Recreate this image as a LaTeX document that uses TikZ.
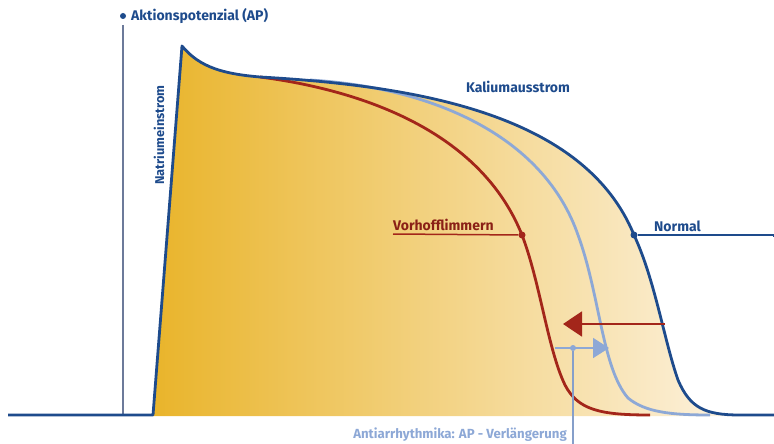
\documentclass[tikz,border=0pt]{standalone}
\usepackage{fontspec}
\setmainfont{Fira Sans}
\usetikzlibrary{arrows.meta}

\definecolor{apblue}{HTML}{1E4B8C}
\definecolor{afred}{HTML}{A3261A}
\definecolor{aablue}{HTML}{8DA8D6}
\definecolor{axisgray}{HTML}{6C7A9A}
\definecolor{apgold}{HTML}{E9B42A}
\definecolor{apmid}{HTML}{F3D283}
\definecolor{apcream}{HTML}{FDF3E2}

\tikzset{
  lbl/.style={font=\bfseries\fontsize{14}{16}\selectfont, inner sep=0pt},
  dotmark/.style={circle, fill, inner sep=0pt, minimum size=7pt},
  curve/.style={line width=2.8pt, line join=round},
}

\begin{document}
\begin{tikzpicture}[x=1pt,y=-1pt]
  \useasboundingbox (0,0) rectangle (774,444);

  % Flaeche unter dem normalen AP
  \begin{scope}
    \clip (153,416) -- (182,46) .. controls (200,68) and (225,74) .. (260,77)
      .. controls (420,86) and (585,115) .. (634,235)
      .. controls (655,280) and (664,340) .. (678,380)
      .. controls (690,408) and (705,416) .. (740,416) -- cycle;
    \shade[left color=apgold, middle color=apmid, right color=apcream] (150,40) rectangle (745,420);
  \end{scope}

  % Achse
  \node[dotmark, apblue, minimum size=6pt] (apdot) at (123,16) {};
  \node[lbl, apblue, anchor=west] (aplabel) at (131,16) {Aktionspotenzial (AP)};
  \coordinate (axtop) at (123,25);
  \coordinate (axbot) at (123,415);
  \draw[axisgray, line width=1.5pt] (axtop) -- (axbot);

  % Kurven
  \draw[curve, aablue] (310,80) .. controls (440,88) and (545,140) .. (578,235)
      .. controls (600,295) and (602,368) .. (628,398)
      .. controls (645,412) and (670,415) .. (710,415);
  \draw[curve, afred] (260,77) .. controls (360,90) and (480,130) .. (522,235)
      .. controls (540,282) and (548,350) .. (565,385)
      .. controls (578,410) and (600,415) .. (650,415);
  \draw[curve, apblue] (8,415) -- (153,415) -- (182,46)
      .. controls (200,68) and (225,74) .. (260,77)
      .. controls (420,86) and (585,115) .. (634,235)
      .. controls (655,280) and (664,340) .. (678,380)
      .. controls (690,408) and (705,415) .. (740,415) -- (774,415);

  % Beschriftungen
  \node[lbl, apblue, rotate=90, font=\bfseries\fontsize{12.8}{14}\selectfont] (natrium) at (159,135) {Natriumeinstrom};
  \node[lbl, apblue] (kalium) at (518,87) {Kaliumausstrom};

  \node[dotmark, afred] (vhfdot) at (522,235) {};
  \node[lbl, afred!85!black, anchor=south west] (vhf) at (393,231) {Vorhofflimmern};
  \coordinate (vhfline) at (393,234);
  \draw[afred, line width=1.5pt] (vhfline) -- (vhfdot);

  \node[dotmark, apblue] (normdot) at (634,235) {};
  \node[lbl, apblue, anchor=south west] (normal) at (654,232) {Normal};
  \coordinate (normend) at (774,237);
  \draw[apblue, line width=1.5pt] (normdot) -- (normdot -| normend) -- (normend);

  % Pfeile
  \coordinate (redstart) at (665,324);
  \coordinate (redtip) at (563,324);
  \draw[afred, line width=1.8pt, -{Triangle[length=19pt,width=25pt]}] (redstart) -- (redtip);

  \coordinate (aastart) at (555,348);
  \coordinate (aatip) at (609,348);
  \node[dotmark, aablue, minimum size=6pt] (aadot) at (573,348) {};
  \draw[aablue, line width=1.8pt, -{Triangle[length=16pt,width=20pt]}] (aastart) -- (aatip);
  \coordinate (aabot) at (573,444);
  \draw[aablue!80!axisgray, line width=1.2pt] (aadot) -- (aabot);
  \node[lbl, aablue, anchor=east, font=\bfseries\fontsize{13.2}{15}\selectfont] (aalabel) at (567,435) {Antiarrhythmika: AP - Verlängerung};
\end{tikzpicture}
\end{document}
